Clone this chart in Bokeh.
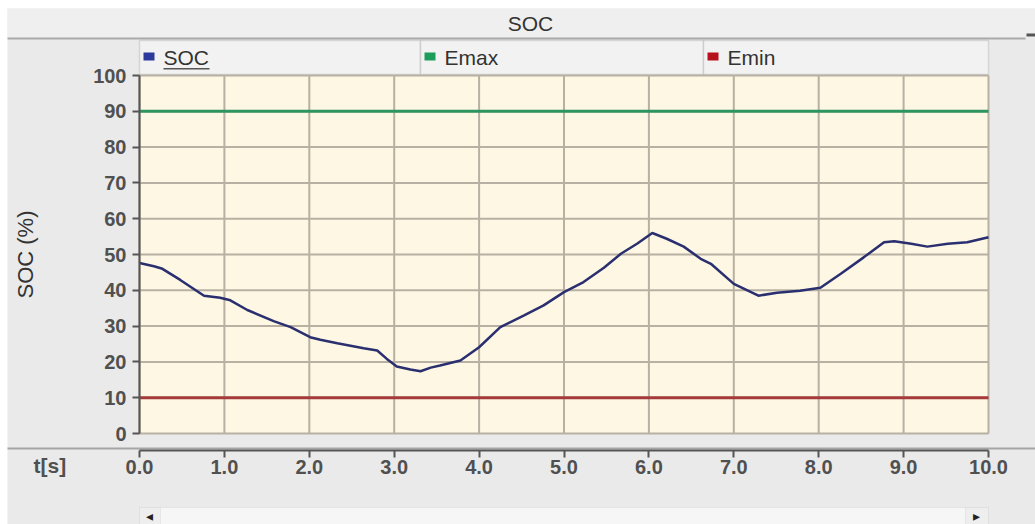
from bokeh.plotting import figure
from bokeh.models import (BoxAnnotation, Label, FixedTicker, PrintfTickFormatter,
                          Range1d, LinearAxis)
from bokeh.embed import file_html
from bokeh.resources import INLINE

# ---- data ----
T = [0.0, 0.17, 0.27, 0.48, 0.76, 0.95, 1.07, 1.27, 1.58, 1.78, 2.01, 2.13, 2.33,
     2.64, 2.80, 2.91, 3.03, 3.19, 3.31, 3.43, 3.54, 3.78, 4.0, 4.25, 4.53, 4.76,
     5.0, 5.23, 5.47, 5.67, 5.86, 6.04, 6.21, 6.41, 6.61, 6.73, 7.0, 7.29, 7.51,
     7.78, 8.02, 8.26, 8.53, 8.77, 8.89, 9.09, 9.28, 9.52, 9.75, 10.0]
SOC = [47.6, 46.7, 46.0, 42.9, 38.5, 37.9, 37.2, 34.5, 31.4, 29.7, 26.9, 26.2, 25.2,
       23.8, 23.2, 20.9, 18.7, 17.9, 17.4, 18.4, 19.0, 20.4, 24.1, 29.7, 33.0, 35.8,
       39.5, 42.3, 46.3, 50.2, 53.0, 56.0, 54.4, 52.2, 48.8, 47.4, 41.8, 38.5, 39.3,
       39.9, 40.7, 44.6, 49.2, 53.4, 53.7, 53.0, 52.2, 53.0, 53.4, 54.8]
EMAX = 90
EMIN = 10
X_TICKS = [0, 1, 2, 3, 4, 5, 6, 7, 8, 9, 10]
Y_TICKS = [0, 10, 20, 30, 40, 50, 60, 70, 80, 90, 100]
SERIES = ["SOC", "Emax", "Emin"]
SERIES_COLORS = ["#2b3a9b", "#1c9e5a", "#b5121b"]

FONT = "Liberation Sans"
TXT = "#333333"
TICK_TXT = "#505050"
PANEL = "#eaeaea"

# ---- layout (canvas pixels) ----
W, H = 1035, 524
PX_L, PX_R = 139, 988      # x of first / last x tick
PX_T, PX_B = 75, 433       # y of top / bottom y tick
PX_AXIS = 450              # y of x-axis line

X0, X1 = X_TICKS[0], X_TICKS[-1]
Y0, Y1 = Y_TICKS[0], Y_TICKS[-1]
kx = (PX_R - PX_L) / (X1 - X0)
ky = (PX_B - PX_T) / (Y1 - Y0)
x_range = Range1d(X0 - PX_L / kx, X1 + (W - PX_R) / kx)
y_range = Range1d(Y0 - (H - PX_B) / ky, Y1 + PX_T / ky)
Y_AXIS_AT = Y0 - (PX_AXIS - PX_B) / ky

p = figure(width=W, height=H, x_range=x_range, y_range=y_range,
           x_axis_type=None, y_axis_type=None,
           output_backend="svg", toolbar_location=None, min_border=0)
p.background_fill_color = "white"
p.border_fill_color = "white"
p.outline_line_color = None


def sbox(l, r, top, bottom, fill, line=None, lw=1, level="underlay"):
    """box in canvas pixels (top-left origin)"""
    p.add_layout(BoxAnnotation(left=l, right=r, bottom=H - bottom, top=H - top,
                               left_units="screen", right_units="screen",
                               bottom_units="screen", top_units="screen",
                               fill_color=fill, fill_alpha=1.0,
                               line_color=line, line_width=lw, level=level))


def slabel(x, y, text, size="21px", align="left", color=TXT, font=FONT, style="normal"):
    p.add_layout(Label(x=x, y=H - y, x_units="screen", y_units="screen", text=text,
                       text_font=font, text_font_size=size, text_color=color,
                       text_font_style=style, text_align=align, text_baseline="middle"))


# panel background
sbox(7, W, 8, H, PANEL)
# title bar
sbox(7, W, 8, 37, "#efefef")
sbox(7, 1025, 37, 39, "#a9a9a9")
sbox(1026, W, 33, 36, "#555555")
slabel(530, 23, "SOC", align="center", size="21px")

# legend header cells
cells = [(139, 420), (420, 703), (703, 988)]
for (l, r), name, col in zip(cells, SERIES, SERIES_COLORS):
    sbox(l, r, 40, 74, "#f2f2f2", "#9d9d9d", 1.5)
    sbox(l + 4, l + 15, 52, 60, col)
    slabel(l + 24, 57, name)
sbox(163, 209, 67.5, 69, "#555555")      # underline of "SOC"

# separator above the x axis
sbox(7, W, 447, 449, "#a5a5a5")

# cream plotting area
p.add_layout(BoxAnnotation(left=X0, right=X1, bottom=Y0, top=Y1, fill_color="#fdf7e3",
                           fill_alpha=1.0, line_color="#b4b4b4", line_width=1,
                           level="underlay"))

# scrollbar
sbox(139, 988, 507, H, "#f6f6f6", "#c9c9c9", 1)
sbox(139, 160, 507, H, "#eeeeee", "#c9c9c9", 1)
sbox(965, 988, 507, H, "#eeeeee", "#c9c9c9", 1)
slabel(149, 515, "\u25c2", size="14px", align="center", color="#222222", font="DejaVu Sans")
slabel(976, 515, "\u25b8", size="14px", align="center", color="#222222", font="DejaVu Sans")

# x-axis caption
slabel(33, 465, "t[s]", color=TICK_TXT, style="bold")

# grid lines from the tick lists
nx, ny = len(X_TICKS), len(Y_TICKS)
p.segment(x0=X_TICKS, y0=[Y0] * nx, x1=X_TICKS, y1=[Y1] * nx, line_color="#b8b0a3", line_width=2)
p.segment(x0=[X0] * ny, y0=Y_TICKS, x1=[X1] * ny, y1=Y_TICKS, line_color="#b8b0a3", line_width=2)

# limit lines and SOC curve
p.line([X0, X1], [EMAX, EMAX], line_color="#2e9560", line_width=3)
p.line([X0, X1], [EMIN, EMIN], line_color="#a63a3a", line_width=3)
p.line(T, SOC, line_color="#2a2f70", line_width=2.5)

# axes
xaxis = LinearAxis(fixed_location=Y_AXIS_AT, bounds=(X0, X1),
                   ticker=FixedTicker(ticks=X_TICKS),
                   formatter=PrintfTickFormatter(format="%.1f"))
yaxis = LinearAxis(fixed_location=X0, bounds=(Y0, Y1),
                   ticker=FixedTicker(ticks=Y_TICKS))
for ax in (xaxis, yaxis):
    ax.axis_line_color = "#555555"
    ax.axis_line_width = 2
    ax.major_tick_line_color = "#555555"
    ax.major_tick_line_width = 2
    ax.major_tick_in = 0
    ax.major_tick_out = 7
    ax.minor_tick_line_color = None
    ax.major_label_text_font = FONT
    ax.major_label_text_font_size = "20px"
    ax.major_label_text_font_style = "bold"
    ax.major_label_text_color = TICK_TXT
xaxis.major_label_standoff = 2
yaxis.major_label_standoff = 6
yaxis.axis_label = "SOC (%)"
yaxis.axis_label_text_font = FONT
yaxis.axis_label_text_font_size = "22px"
yaxis.axis_label_text_font_style = "normal"
yaxis.axis_label_text_color = TXT
yaxis.axis_label_standoff = 52
p.add_layout(xaxis, "below")
p.add_layout(yaxis, "left")

open("out.html", "w").write(file_html(p, INLINE))
